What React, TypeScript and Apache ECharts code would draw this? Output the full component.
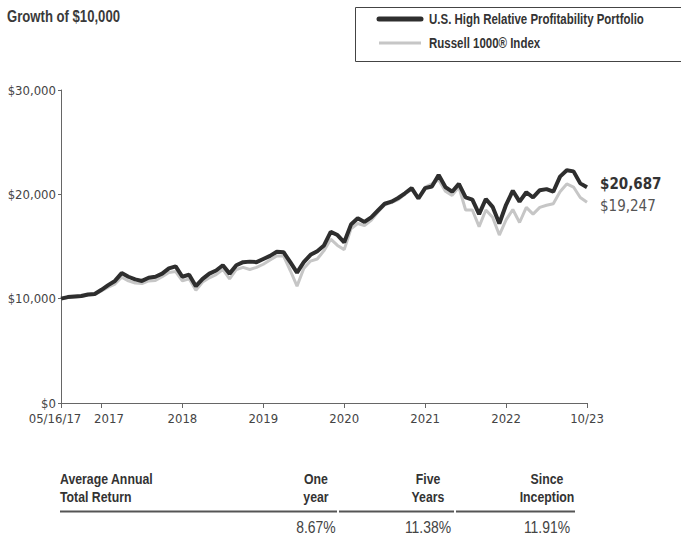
import React, { useEffect, useRef } from "react";
import * as echarts from "echarts";

const AXIS_FONT = "'DejaVu Sans Condensed', 'Liberation Sans Narrow', sans-serif";
const TEXT_FONT = "'Liberation Sans', Arial, sans-serif";
const NARROW = 0.82;

// Monthly points from 05/16/17 to 10/31/23 (79 points)
const months: string[] = (() => {
  const out: string[] = ["05/16/17"];
  let y = 2017, m = 5;
  for (let i = 0; i < 78; i++) {
    out.push(`${String(m).padStart(2, "0")}/${String(y).slice(2)}`);
    m++;
    if (m > 12) { m = 1; y++; }
  }
  return out;
})();

const portfolio = [
  10000, 10150, 10200, 10250, 10400, 10450, 10850, 11300, 11700, 12450,
  12100, 11850, 11700, 12000, 12100, 12400, 12900, 13100, 12100, 12300,
  11200, 11900, 12400, 12700, 13200, 12400, 13200, 13500, 13550, 13500,
  13800, 14100, 14500, 14450, 13500, 12500, 13500, 14200, 14550, 15100,
  16400, 16100, 15400, 17100, 17700, 17350, 17800, 18450, 19100, 19300,
  19650, 20100, 20600, 19600, 20600, 20750, 21850, 20700, 20250, 21000,
  19700, 19500, 18100, 19550, 18800, 17200, 19000, 20350, 19300, 20200,
  19700, 20400, 20500, 20250, 21700, 22300, 22200, 21050, 20687,
];

const russell = [
  10000, 10100, 10150, 10200, 10350, 10400, 10750, 11100, 11400, 12050,
  11700, 11500, 11450, 11700, 11750, 12100, 12500, 12600, 11700, 11900,
  10800, 11600, 12000, 12300, 12800, 11900, 12800, 13000, 12800, 13000,
  13300, 13700, 14100, 14100, 12700, 11200, 12900, 13600, 13800, 14600,
  15700, 15100, 14700, 16700, 17200, 17000, 17500, 18300, 19000, 19200,
  19500, 20000, 20500, 19600, 20700, 21000, 21400, 20300, 19900, 20700,
  18500, 18500, 16900, 18500, 17800, 16100, 17550, 18550, 17300, 18750,
  18100, 18750, 18950, 19100, 20250, 21000, 20700, 19700, 19247,
];

const tickIndices = [0, 6, 18, 30, 42, 54, 66, 78];
const tickLabels = ["05/16/17", "2017", "2018", "2019", "2020", "2021", "2022", "10/23"];

const seriesNames = ["U.S. High Relative Profitability Portfolio", "Russell 1000® Index"];
const returnHeaders = [["One", "year"], ["Five", "Years"], ["Since", "Inception"]];
const returnValues = ["8.67%", "11.38%", "11.91%"];

const fmtMoney = (v: number) => "$" + Math.round(v).toLocaleString("en-US");

const narrowText = (x: number, y: number, text: string, font: string, fill: string, align = "left") => ({
  type: "text",
  x,
  y,
  scaleX: NARROW,
  style: { x: 0, y: 0, text, font, fill, align, verticalAlign: "middle" },
});

export default function App() {
  const ref = useRef<HTMLDivElement>(null);
  useEffect(() => {
    if (!ref.current) return;
    const chart = echarts.init(ref.current, null, { renderer: "svg" });
    const colX = [316, 428, 547];
    const graphic: any[] = [
      narrowText(7, 17, "Growth of $10,000", `bold 16px ${TEXT_FONT}`, "#3a3a3a"),
      { type: "rect", shape: { x: 355.5, y: 7.5, width: 340, height: 54 }, style: { fill: "none", stroke: "#444", lineWidth: 1 } },
      { type: "line", shape: { x1: 379, y1: 19, x2: 421, y2: 19 }, style: { stroke: "#2e2e2e", lineWidth: 5, lineCap: "round" } },
      { type: "line", shape: { x1: 379, y1: 43, x2: 421, y2: 43 }, style: { stroke: "#c6c6c6", lineWidth: 3 } },
      narrowText(429, 19, seriesNames[0], `bold 14px ${TEXT_FONT}`, "#333"),
      narrowText(429, 43, seriesNames[1], `bold 14px ${TEXT_FONT}`, "#333"),
      narrowText(60, 479, "Average Annual", `bold 15px ${TEXT_FONT}`, "#333"),
      narrowText(60, 497, "Total Return", `bold 15px ${TEXT_FONT}`, "#333"),
      { type: "line", shape: { x1: 60, y1: 511.5, x2: 337, y2: 511.5 }, style: { stroke: "#555", lineWidth: 2 } },
      { type: "line", shape: { x1: 339, y1: 511.5, x2: 454, y2: 511.5 }, style: { stroke: "#555", lineWidth: 2 } },
      { type: "line", shape: { x1: 456, y1: 511.5, x2: 575, y2: 511.5 }, style: { stroke: "#555", lineWidth: 2 } },
    ];
    returnHeaders.forEach((h, i) => {
      graphic.push(narrowText(colX[i], 479, h[0], `bold 15px ${TEXT_FONT}`, "#333", "center"));
      graphic.push(narrowText(colX[i], 497, h[1], `bold 15px ${TEXT_FONT}`, "#333", "center"));
      graphic.push(narrowText(colX[i], 527, returnValues[i], `17px ${TEXT_FONT}`, "#444", "center"));
    });

    chart.setOption({
      animation: false,
      grid: { left: 61, right: 94, top: 90, bottom: 135, containLabel: false },
      xAxis: {
        type: "category",
        data: months,
        boundaryGap: false,
        axisLine: { lineStyle: { color: "#666", width: 1 } },
        axisTick: { interval: (i: number) => tickIndices.includes(i), length: 5, lineStyle: { color: "#666" } },
        axisLabel: {
          interval: (i: number) => tickIndices.includes(i),
          formatter: (_v: string, i: number) => {
            const k = tickIndices.indexOf(i);
            if (k === 0) return `{l|${tickLabels[k]}}`;
            if (k === 1) return `{r|${tickLabels[k]}}`;
            return k >= 0 ? tickLabels[k] : "";
          },
          margin: 9,
          color: "#444",
          fontFamily: AXIS_FONT,
          fontSize: 13,
          rich: {
            l: { padding: [0, 12, 0, 0], fontFamily: AXIS_FONT, fontSize: 13, color: "#444" },
            r: { padding: [0, 0, 0, 15], fontFamily: AXIS_FONT, fontSize: 13, color: "#444" },
          },
        },
        splitLine: { show: false },
      },
      yAxis: {
        type: "value",
        min: 0,
        max: 30000,
        interval: 10000,
        axisLine: { show: true, lineStyle: { color: "#666", width: 1 } },
        axisTick: { show: true, length: 3, lineStyle: { color: "#666" } },
        axisLabel: { formatter: (v: number) => fmtMoney(v), color: "#444", fontFamily: AXIS_FONT, fontSize: 13, margin: 5 },
        splitLine: { show: false },
      },
      series: [
        {
          name: seriesNames[1],
          type: "line",
          data: russell,
          symbol: "none",
          lineStyle: { color: "#c6c6c6", width: 3 },
          z: 2,
          endLabel: {
            show: true,
            formatter: (p: any) => fmtMoney(p.value),
            color: "#555",
            fontFamily: AXIS_FONT,
            fontSize: 15,
            distance: 13,
            offset: [0, 4],
          },
        },
        {
          name: seriesNames[0],
          type: "line",
          data: portfolio,
          symbol: "none",
          lineStyle: { color: "#2e2e2e", width: 4 },
          z: 3,
          endLabel: {
            show: true,
            formatter: (p: any) => fmtMoney(p.value),
            color: "#333",
            fontFamily: AXIS_FONT,
            fontWeight: "bold",
            fontSize: 15,
            distance: 13,
            offset: [0, -3],
          },
        },
      ],
      graphic,
    });
    return () => chart.dispose();
  }, []);
  return <div ref={ref} style={{ position: "absolute", left: 0, top: 0, width: 681, height: 538 }} />;
}
